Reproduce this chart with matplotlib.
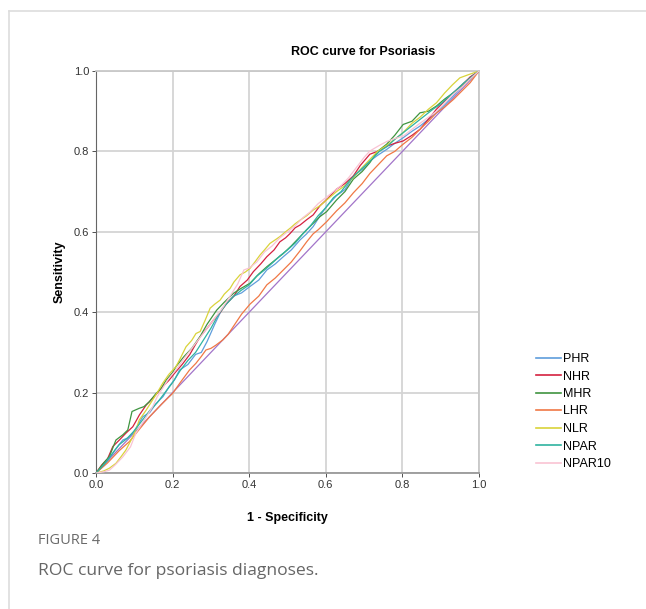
import matplotlib
matplotlib.use("Agg")
import matplotlib.pyplot as plt
import matplotlib.lines as mlines
import numpy as np

# ROC points (1 - specificity, sensitivity)
phr = np.array([(0, 0), (.02, .018), (.035, .036), (.05, .058), (.07, .082), (.085, .088), (.096, .099),
                (.11, .12), (.122, .14), (.14, .15), (.157, .173), (.175, .19), (.191, .215), (.205, .232),
                (.218, .256), (.24, .27), (.26, .295), (.275, .30), (.29, .327), (.31, .37), (.33, .41),
                (.345, .425), (.359, .44), (.38, .448), (.402, .464), (.425, .48), (.446, .505), (.468, .52),
                (.489, .538), (.51, .555), (.533, .58), (.55, .595), (.567, .613), (.585, .64), (.602, .663),
                (.628, .69), (.65, .705), (.672, .739), (.695, .755), (.715, .776), (.735, .79), (.759, .805),
                (.78, .82), (.802, .834), (.825, .85), (.846, .863), (.868, .88), (.889, .896), (.91, .915),
                (.933, .938), (.955, .96), (.977, .985), (1, 1)])

nhr = np.array([(0, 0), (.015, .02), (.03, .035), (.044, .066), (.061, .082), (.078, .099), (.096, .115),
                (.105, .13), (.113, .144), (.131, .169), (.152, .19), (.174, .215), (.19, .23), (.205, .248),
                (.225, .27), (.245, .295), (.26, .32), (.272, .339), (.29, .36), (.307, .381), (.325, .40),
                (.341, .422), (.36, .44), (.376, .464), (.395, .48), (.411, .501), (.43, .52), (.446, .538),
                (.465, .555), (.48, .575), (.495, .585), (.507, .596), (.52, .61), (.533, .617), (.55, .63),
                (.567, .642), (.585, .665), (.602, .68), (.628, .706), (.65, .72), (.672, .739), (.69, .765),
                (.715, .793), (.735, .80), (.759, .813), (.78, .82), (.802, .826), (.825, .84), (.846, .855),
                (.868, .88), (.889, .905), (.91, .925), (.933, .946), (.955, .965), (.977, .985), (1, 1)])

mhr = np.array([(0, 0), (.02, .025), (.035, .041), (.045, .065), (.052, .082), (.07, .095), (.083, .107),
                (.094, .153), (.113, .161), (.125, .165), (.139, .177), (.157, .198), (.17, .21), (.183, .231),
                (.2, .25), (.209, .265), (.23, .29), (.25, .31), (.272, .34), (.29, .37), (.315, .405),
                (.335, .425), (.359, .447), (.38, .46), (.402, .472), (.425, .495), (.446, .513), (.468, .53),
                (.489, .546), (.51, .565), (.533, .588), (.55, .605), (.567, .621), (.585, .638), (.602, .65),
                (.628, .679), (.65, .70), (.672, .731), (.695, .75), (.715, .772), (.735, .80), (.759, .818),
                (.78, .84), (.802, .867), (.825, .875), (.846, .896), (.868, .90), (.889, .913), (.91, .93),
                (.933, .946), (.955, .962), (.977, .98), (1, 1)])

lhr = np.array([(0, 0), (.03, .025), (.06, .055), (.087, .078), (.11, .105), (.14, .14), (.17, .17),
                (.2, .198), (.22, .225), (.244, .256), (.261, .273), (.275, .29), (.287, .306), (.3, .31),
                (.313, .318), (.331, .331), (.345, .345), (.359, .365), (.38, .395), (.402, .42), (.425, .44),
                (.446, .468), (.468, .485), (.489, .505), (.51, .525), (.533, .553), (.55, .575), (.567, .595),
                (.58, .605), (.602, .625), (.628, .652), (.65, .672), (.672, .697), (.695, .72), (.715, .745),
                (.735, .765), (.759, .789), (.78, .80), (.802, .818), (.825, .835), (.846, .855), (.868, .875),
                (.889, .896), (.91, .91), (.933, .929), (.955, .95), (.977, .971), (1, 1)])

nlr = np.array([(0, 0), (.02, .005), (.035, .012), (.052, .024), (.065, .04), (.078, .057), (.096, .09),
                (.105, .11), (.113, .132), (.13, .155), (.148, .182), (.16, .2), (.174, .223), (.19, .245),
                (.209, .265), (.22, .285), (.235, .314), (.25, .33), (.261, .347), (.272, .352), (.285, .38),
                (.298, .41), (.31, .42), (.324, .43), (.335, .445), (.35, .459), (.36, .475), (.376, .493),
                (.39, .50), (.402, .509), (.415, .525), (.428, .542), (.44, .555), (.454, .571), (.468, .58),
                (.48, .588), (.495, .60), (.507, .609), (.52, .62), (.533, .629), (.55, .64), (.567, .654),
                (.585, .665), (.602, .679), (.628, .70), (.65, .715), (.672, .735), (.695, .76), (.715, .78),
                (.735, .80), (.759, .815), (.78, .83), (.802, .847), (.825, .87), (.846, .885), (.868, .905),
                (.889, .921), (.91, .945), (.93, .965), (.95, .983), (.97, .99), (1, 1)])

npar = np.array([(0, 0), (.02, .02), (.04, .045), (.06, .07), (.08, .085), (.1, .105), (.12, .13),
                 (.14, .155), (.16, .175), (.18, .2), (.2, .225), (.22, .255), (.24, .28), (.26, .30),
                 (.28, .33), (.3, .36), (.32, .395), (.34, .42), (.36, .44), (.38, .455), (.4, .468),
                 (.42, .49), (.44, .505), (.46, .522), (.48, .54), (.5, .555), (.52, .572), (.54, .595),
                 (.56, .615), (.58, .64), (.6, .66), (.62, .685), (.64, .70), (.66, .725), (.68, .745),
                 (.7, .762), (.72, .78), (.74, .80), (.76, .812), (.78, .83), (.8, .845), (.82, .86),
                 (.84, .875), (.86, .89), (.88, .905), (.9, .918), (.92, .935), (.94, .952), (.96, .97),
                 (.98, .985), (1, 1)])

npar10 = np.array([(0, 0), (.02, .003), (.035, .007), (.05, .02), (.07, .04), (.09, .065), (.104, .099),
                   (.125, .13), (.148, .165), (.16, .19), (.174, .211), (.19, .235), (.21, .258), (.23, .285),
                   (.25, .31), (.27, .335), (.29, .36), (.31, .385), (.33, .41), (.35, .44), (.37, .47),
                   (.386, .505), (.4, .51), (.42, .525), (.44, .55), (.46, .565), (.48, .585), (.5, .60),
                   (.52, .615), (.54, .635), (.56, .65), (.58, .67), (.6, .685), (.62, .70), (.64, .715),
                   (.66, .735), (.68, .76), (.7, .785), (.715, .801), (.74, .815), (.76, .825), (.78, .832),
                   (.802, .838), (.825, .855), (.846, .87), (.868, .885), (.889, .9), (.91, .92), (.93, .94),
                   (.955, .96), (.977, .98), (1, 1)])

names = ['PHR', 'NHR', 'MHR', 'LHR', 'NLR', 'NPAR', 'NPAR10']
curves = [phr, nhr, mhr, lhr, nlr, npar, npar10]
colors = ['#5f9ddc', '#d4213f', '#3f9440', '#f07845', '#d9d33a', '#2fb3a0', '#f9c3d3']
ticks = [0.0, 0.2, 0.4, 0.6, 0.8, 1.0]
tick_labels = ['0.0', '0.2', '0.4', '0.6', '0.8', '1.0']

plt.rcParams['font.family'] = ['Liberation Sans', 'DejaVu Sans']

fig = plt.figure(figsize=(6.46, 6.09), dpi=100)
ax = fig.add_axes([96 / 646, 1 - 473 / 609, 383 / 646, 402 / 609])

ax.set_xlim(0, 1)
ax.set_ylim(0, 1)
ax.set_xticks(ticks)
ax.set_yticks(ticks)
ax.set_xticklabels(tick_labels)
ax.set_yticklabels(tick_labels)
ax.tick_params(labelsize=8, colors='#333333', length=3, width=0.6, pad=2)
ax.grid(True, color='#d4d4d4', linewidth=1.3)
ax.set_axisbelow(True)
for side in ['top', 'right', 'bottom']:
    ax.spines[side].set_color('#c8c8c8')
    ax.spines[side].set_linewidth(1.3)
ax.spines['left'].set_color('#666666')
ax.spines['left'].set_linewidth(0.8)
ax.spines['bottom'].set_color('#999999')

# reference diagonal
ax.plot([0, 1], [0, 1], color='#a274c9', linewidth=0.9, zorder=2)

for pts, col in zip(curves, colors):
    ax.plot(pts[:, 0], pts[:, 1], color=col, linewidth=0.9, zorder=3)

ax.set_xlabel('1 - Specificity', fontsize=9, fontweight='bold', labelpad=16)
ax.set_ylabel('Sensitivity', fontsize=9, fontweight='bold', labelpad=6)
fig.text(363 / 646, 1 - 52 / 609, 'ROC curve for Psoriasis', fontsize=9, fontweight='bold',
         ha='center', va='center')

handles = [mlines.Line2D([0], [0], color=c, lw=1.2, label=n) for n, c in zip(names, colors)]
fig.legend(handles=handles, loc='upper left', bbox_to_anchor=(536 / 646, 1 - 353 / 609),
           frameon=False, fontsize=9, handlelength=2.0, handletextpad=0.2, labelspacing=0.44,
           borderaxespad=0, borderpad=0)

# card border and caption
fig.add_artist(mlines.Line2D([9 / 646, 9 / 646], [0, 1 - 11 / 609], color='#dddddd', lw=1.2))
fig.add_artist(mlines.Line2D([9 / 646, 1], [1 - 11 / 609, 1 - 11 / 609], color='#dddddd', lw=1.2))
fig.text(38 / 646, 1 - 541 / 609, 'FIGURE 4', fontsize=10.5, color='#6a6a6a',
         family=['Open Sans', 'DejaVu Sans'], va='center')
fig.text(38 / 646, 1 - 571 / 609, 'ROC curve for psoriasis diagnoses.', fontsize=12.6, color='#666666',
         family=['Open Sans', 'DejaVu Sans'], va='center')

fig.savefig('out.png', dpi=100)
